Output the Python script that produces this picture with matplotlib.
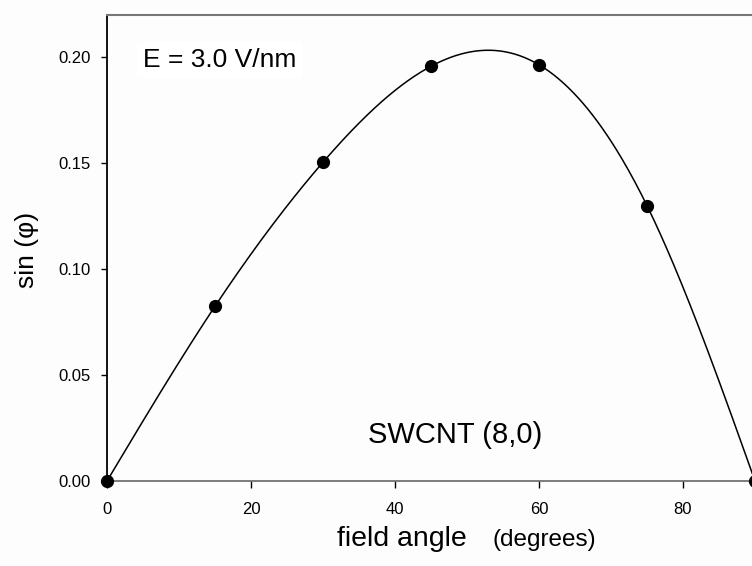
import numpy as np
import matplotlib
matplotlib.use("Agg")
from matplotlib import pyplot as plt

plt.rcParams['font.family'] = ['Liberation Sans', 'DejaVu Sans']

# data
field_angle = [0, 15, 30, 45, 60, 75, 90]
sin_phi = [0.0, 0.0825, 0.1505, 0.1958, 0.1965, 0.130, 0.0]
x_ticks = [0, 20, 40, 60, 80]
y_ticks = [0.00, 0.05, 0.10, 0.15, 0.20]
y_tick_labels = ["0.00", "0.05", "0.10", "0.15", "0.20"]


def natural_spline(x, y, xs):
    # plain natural cubic spline through the measured points
    x = np.asarray(x, float)
    y = np.asarray(y, float)
    n = len(x)
    h = np.diff(x)
    A = np.zeros((n, n))
    b = np.zeros(n)
    A[0, 0] = 1
    A[-1, -1] = 1
    for i in range(1, n - 1):
        A[i, i - 1] = h[i - 1]
        A[i, i] = 2 * (h[i - 1] + h[i])
        A[i, i + 1] = h[i]
        b[i] = 6 * ((y[i + 1] - y[i]) / h[i] - (y[i] - y[i - 1]) / h[i - 1])
    M = np.linalg.solve(A, b)
    idx = np.clip(np.searchsorted(x, xs) - 1, 0, n - 2)
    x0, x1 = x[idx], x[idx + 1]
    hh = x1 - x0
    t0 = x1 - xs
    t1 = xs - x0
    return (M[idx] * t0**3 / (6 * hh) + M[idx + 1] * t1**3 / (6 * hh)
            + (y[idx] / hh - M[idx] * hh / 6) * t0
            + (y[idx + 1] / hh - M[idx + 1] * hh / 6) * t1)


fig = plt.figure(figsize=(7.52, 5.66), dpi=100, facecolor='#fdfdfd')
ax = fig.add_axes([107 / 752, 1 - 481 / 566, 648 / 752, 466 / 566])
ax.set_facecolor('#fdfdfd')

xs = np.linspace(0, 90, 400)
ax.plot(xs, natural_spline(field_angle, sin_phi, xs), color='black', linewidth=1.1, clip_on=False)
ax.plot(field_angle, sin_phi, 'o', color='black', markersize=8.5, clip_on=False, zorder=5)

ax.set_xlim(0, 90)
ax.set_ylim(0, 0.22)
ax.set_xticks(x_ticks)
ax.set_yticks(y_ticks)
ax.set_yticklabels(y_tick_labels)
ax.tick_params(axis='x', direction='out', length=5, width=1, labelsize=12, pad=10)
ax.tick_params(axis='y', direction='out', length=4.5, width=1, labelsize=12, pad=7)

ax.spines['left'].set_color('black')
ax.spines['left'].set_linewidth(1.3)
ax.spines['bottom'].set_color('#666666')
ax.spines['bottom'].set_linewidth(1.2)
ax.spines['top'].set_color('#777777')
ax.spines['top'].set_linewidth(1.5)
ax.spines['right'].set_visible(False)

ax.text(143 / 752, 1 - 67 / 566, "E = 3.0 V/nm", transform=fig.transFigure,
        fontsize=19, va='baseline', ha='left',
        bbox=dict(facecolor='white', edgecolor='none', pad=4))
ax.text(368 / 752, 1 - 443 / 566, "SWCNT (8,0)", transform=fig.transFigure,
        fontsize=21, va='baseline', ha='left')

fig.text(337 / 752, 1 - 546 / 566, "field angle", fontsize=20.5, va='baseline', ha='left')
fig.text(492 / 752, 1 - 546 / 566, "(degrees)", fontsize=17.5, va='baseline', ha='left')
fig.text(27 / 752, 1 - 250 / 566, "sin (φ)", fontsize=19, rotation=90, va='center', ha='center')

fig.savefig("out.png", dpi=100, facecolor=fig.get_facecolor())
